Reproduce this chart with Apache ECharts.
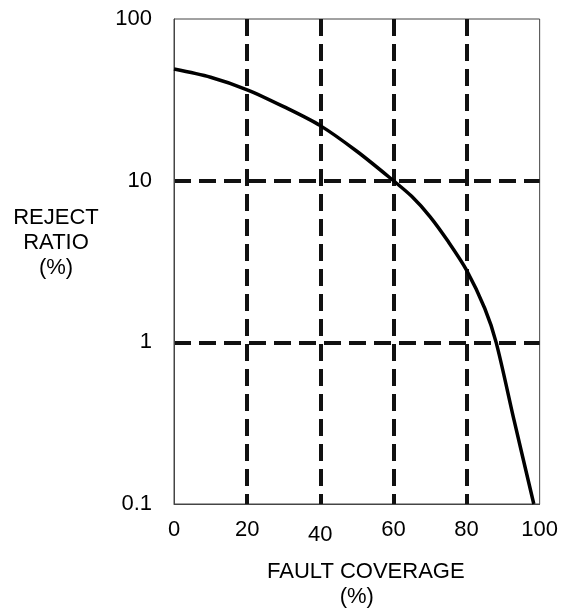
<!DOCTYPE html>
<html>
<head>
<meta charset="utf-8">
<script src="https://cdn.jsdelivr.net/npm/echarts@6/dist/echarts.min.js"></script>
<style>
html,body{margin:0;padding:0;background:#fff;overflow:hidden;}
#chart{width:561px;height:614px;}
</style>
</head>
<body>
<div id="chart"></div>
<script>
// Data
var faultCoverage = [0, 10, 20, 30, 40, 50, 60, 65, 70, 75, 80, 85, 88.1, 93, 98.4];
var rejectRatio   = [49, 43.6, 36.5, 28.7, 21.9, 15.2, 10, 8.0, 6.0, 4.2, 2.8, 1.62, 1, 0.33, 0.1];
var xTicks = [0, 20, 40, 60, 80, 100];
var yTicks = [0.1, 1, 10, 100];
var xNameLines = ['FAULT COVERAGE', '(%)'];
var yName = 'REJECT\nRATIO\n(%)';

function pairs(xs, ys) { return xs.map(function (x, i) { return [x, ys[i]]; }); }

var FONT = 'Liberation Sans, Arial, sans-serif';
var gridLine = { color: '#111', width: 4, type: [17, 8] };

var chart = echarts.init(document.getElementById('chart'), null, { renderer: 'canvas' });
chart.setOption({
  animation: false,
  backgroundColor: '#fff',
  grid: { left: 174, top: 19, right: 17, bottom: 103, show: true, borderColor: '#444', borderWidth: 1 },
  xAxis: {
    type: 'value', min: xTicks[0], max: xTicks[xTicks.length - 1], interval: 20,
    axisLine: { show: true, lineStyle: { color: '#444', width: 1 } },
    axisTick: { show: false },
    axisLabel: {
      color: '#000', fontSize: 22, fontFamily: FONT, margin: 15,
      formatter: function (v) { return v === 40 ? '{low|40}' : String(v); },
      rich: { low: { fontSize: 22, fontFamily: FONT, color: '#000', padding: [5, 0, 0, 0] } }
    },
    splitLine: { show: true, showMinLine: false, showMaxLine: false, lineStyle: gridLine },
    name: '{a|' + xNameLines[0] + '}\n{b|' + xNameLines[1] + '}', nameLocation: 'middle', nameGap: 55,
    nameTextStyle: {
      color: '#000', fontSize: 22, fontFamily: FONT, lineHeight: 25,
      rich: {
        a: { color: '#000', fontSize: 22, fontFamily: FONT, lineHeight: 25, padding: [0, 0, 0, 18] },
        b: { color: '#000', fontSize: 22, fontFamily: FONT, lineHeight: 25 }
      }
    }
  },
  yAxis: {
    type: 'log', logBase: 10, min: yTicks[0], max: yTicks[yTicks.length - 1],
    axisLine: { show: true, lineStyle: { color: '#444', width: 1 } },
    axisTick: { show: false },
    axisLabel: { color: '#000', fontSize: 22, fontFamily: FONT, margin: 22 },
    splitLine: { show: true, showMinLine: false, showMaxLine: false, lineStyle: gridLine },
    minorSplitLine: { show: false }
  },
  graphic: [{
    type: 'text', left: 56 - 45, top: 242 - 37,
    style: { text: yName, x: 0, y: 0, fill: '#000', font: '22px ' + FONT, textAlign: 'center', lineHeight: 25, width: 90 }
  }],
  series: [
    { type: 'line', data: pairs(faultCoverage, rejectRatio), smooth: 0.3, symbol: 'none',
      lineStyle: { color: '#000', width: 3.5 } }
  ]
});
</script>
</body>
</html>
